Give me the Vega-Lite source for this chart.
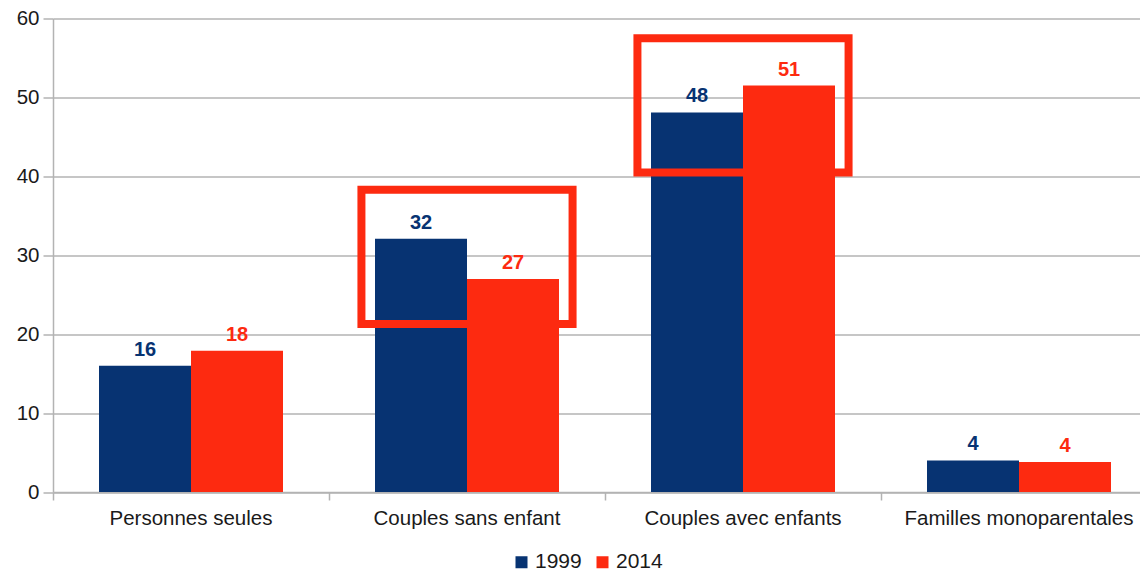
{
  "$schema": "https://vega.github.io/schema/vega-lite/v6.json",
  "width": 1087,
  "height": 473.5,
  "autosize": {"type": "none"},
  "padding": {"left": 53, "top": 18.5, "right": 0, "bottom": 79},
  "background": "white",
  "config": {
    "view": {"stroke": null},
    "font": "Liberation Sans",
    "axis": {"labelFont": "Liberation Sans", "labelColor": "#1a1a1a", "labelFontSize": 20.5, "title": null, "labelLimit": 0}
  },
  "datasets": {
    "bars": [
      {"categorie": "Personnes seules", "annee": "1999", "valeur": 16, "etiquette": "16"},
      {"categorie": "Personnes seules", "annee": "2014", "valeur": 17.9, "etiquette": "18"},
      {"categorie": "Couples sans enfant", "annee": "1999", "valeur": 32.1, "etiquette": "32"},
      {"categorie": "Couples sans enfant", "annee": "2014", "valeur": 27, "etiquette": "27"},
      {"categorie": "Couples avec enfants", "annee": "1999", "valeur": 48.1, "etiquette": "48"},
      {"categorie": "Couples avec enfants", "annee": "2014", "valeur": 51.5, "etiquette": "51"},
      {"categorie": "Familles monoparentales", "annee": "1999", "valeur": 4, "etiquette": "4"},
      {"categorie": "Familles monoparentales", "annee": "2014", "valeur": 3.8, "etiquette": "4"}
    ],
    "boxes": [
      {"categorie": "Couples sans enfant", "haut": 38.3, "bas": 21.3},
      {"categorie": "Couples avec enfants", "haut": 57.5, "bas": 40.5}
    ]
  },
  "layer": [
    {
      "data": {"name": "bars"},
      "mark": {"type": "bar"},
      "encoding": {
        "x": {
          "field": "categorie", "type": "nominal",
          "scale": {"domain": ["Personnes seules", "Couples sans enfant", "Couples avec enfants", "Familles monoparentales"], "paddingInner": 0, "paddingOuter": 0, "range": [0, 1104]},
          "axis": {"labelAngle": 0, "bandPosition": 0, "tickSize": 8, "tickColor": "#b3b3b3", "domainColor": "#b3b3b3", "labelPadding": 8, "grid": false, "tickWidth": 1.5, "domainWidth": 1.5}
        },
        "xOffset": {"field": "annee", "type": "nominal", "scale": {"paddingOuter": 0.5, "paddingInner": 0}},
        "y": {
          "field": "valeur", "type": "quantitative",
          "scale": {"domain": [0, 60], "nice": false},
          "axis": {"values": [0, 10, 20, 30, 40, 50, 60], "grid": true, "gridColor": "#b3b3b3", "gridWidth": 1.5, "domainColor": "#b3b3b3", "domainWidth": 1.5, "tickColor": "#b3b3b3", "tickWidth": 1.5, "tickSize": 10, "labelPadding": 4}
        },
        "color": {
          "field": "annee", "type": "nominal",
          "scale": {"domain": ["1999", "2014"], "range": ["#073372", "#fd2a10"]},
          "legend": {"orient": "none", "legendX": 458, "legendY": 533, "direction": "horizontal", "title": null, "symbolType": "square", "symbolSize": 144, "symbolStrokeWidth": 0, "labelFontSize": 21, "labelColor": "#1a1a1a", "labelOffset": 3, "columnPadding": 10, "padding": 0}
        }
      }
    },
    {
      "data": {"name": "bars"},
      "mark": {"type": "text", "fontWeight": "bold", "fontSize": 20, "baseline": "alphabetic", "dy": -10},
      "encoding": {
        "x": {"field": "categorie", "type": "nominal"},
        "xOffset": {"field": "annee", "type": "nominal"},
        "y": {"field": "valeur", "type": "quantitative"},
        "text": {"field": "etiquette"},
        "color": {"field": "annee", "type": "nominal", "legend": null}
      }
    },
    {
      "data": {"name": "boxes"},
      "mark": {"type": "bar", "width": {"band": 0.765}, "filled": false, "color": "#fd2a10", "strokeWidth": 8},
      "encoding": {
        "x": {"field": "categorie", "type": "nominal"},
        "y": {"field": "haut", "type": "quantitative"},
        "y2": {"field": "bas"}
      }
    }
  ]
}
